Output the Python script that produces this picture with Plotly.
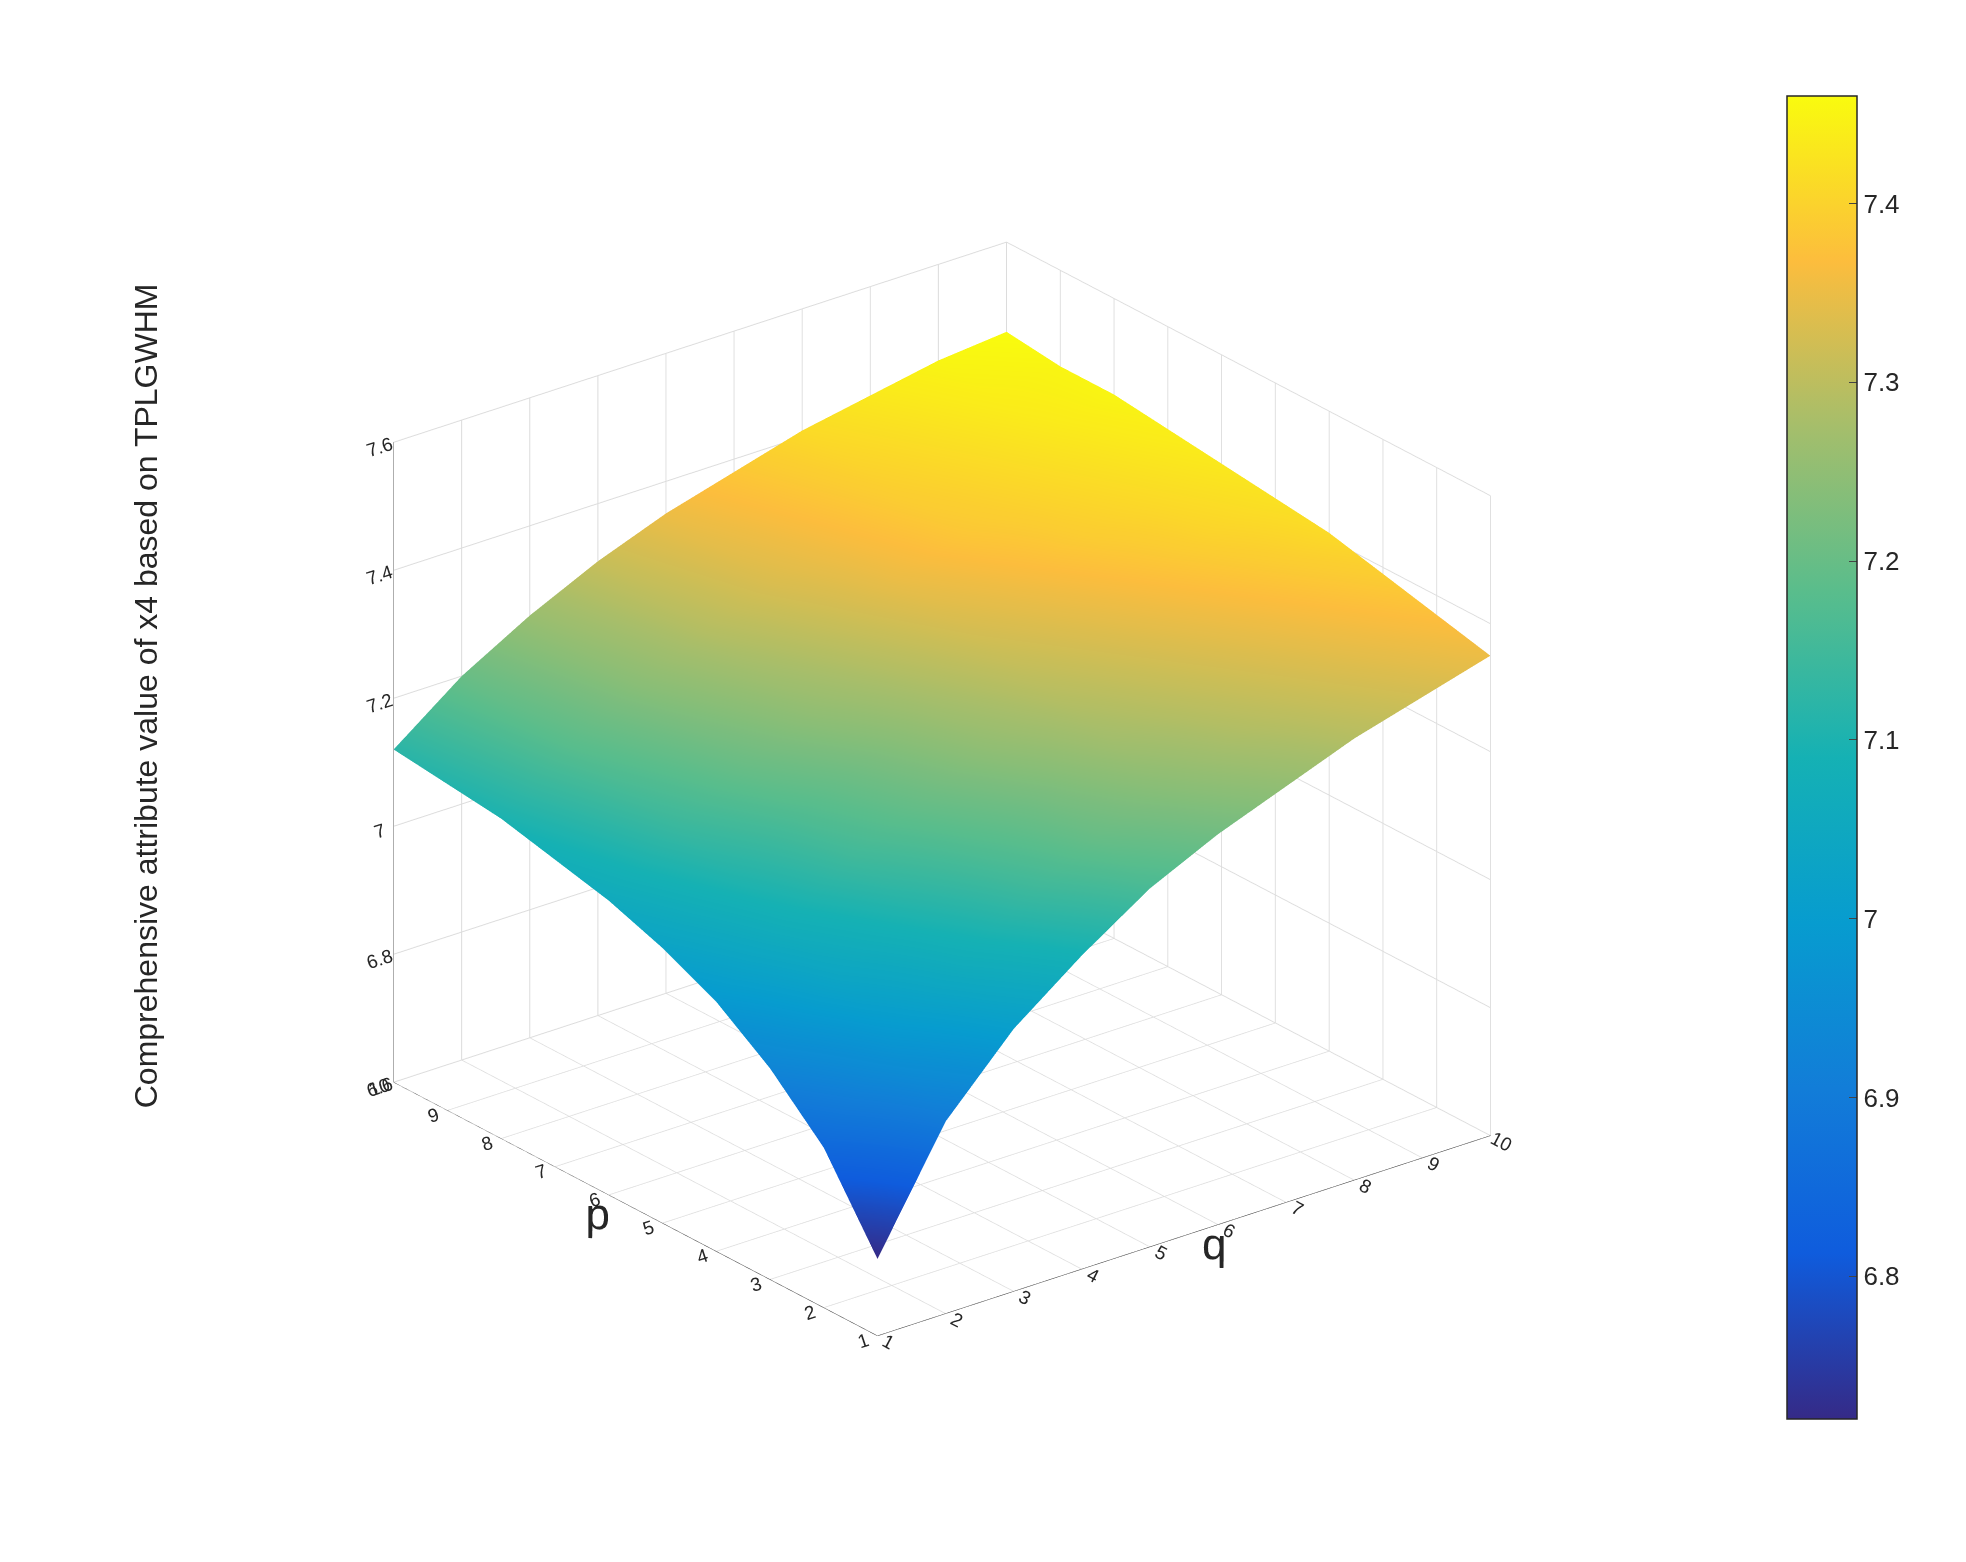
import plotly.graph_objects as go

p = [1, 2, 3, 4, 5, 6, 7, 8, 9, 10]
q = [1, 2, 3, 4, 5, 6, 7, 8, 9, 10]

# rows: p = 1..10, columns: q = 1..10
z = [
    [6.72, 6.90, 7.01, 7.09, 7.16, 7.21, 7.25, 7.29, 7.32, 7.35],
    [6.85, 6.98, 7.07, 7.14, 7.20, 7.24, 7.28, 7.31, 7.34, 7.37],
    [6.93, 7.04, 7.11, 7.17, 7.22, 7.27, 7.30, 7.33, 7.36, 7.39],
    [6.99, 7.08, 7.15, 7.20, 7.25, 7.29, 7.32, 7.35, 7.38, 7.41],
    [7.03, 7.11, 7.17, 7.22, 7.27, 7.31, 7.34, 7.37, 7.40, 7.42],
    [7.06, 7.14, 7.20, 7.25, 7.29, 7.33, 7.36, 7.39, 7.41, 7.43],
    [7.08, 7.16, 7.22, 7.27, 7.31, 7.35, 7.38, 7.40, 7.42, 7.44],
    [7.10, 7.18, 7.24, 7.29, 7.33, 7.36, 7.39, 7.41, 7.43, 7.45],
    [7.11, 7.19, 7.25, 7.30, 7.34, 7.37, 7.40, 7.42, 7.44, 7.45],
    [7.12, 7.20, 7.26, 7.31, 7.35, 7.38, 7.41, 7.43, 7.45, 7.46],
]

parula = [
    [0.0, "rgb(53,42,135)"],
    [0.125, "rgb(15,92,221)"],
    [0.25, "rgb(18,125,216)"],
    [0.375, "rgb(7,156,207)"],
    [0.5, "rgb(21,177,180)"],
    [0.625, "rgb(89,189,140)"],
    [0.75, "rgb(165,190,107)"],
    [0.875, "rgb(252,189,61)"],
    [1.0, "rgb(249,251,14)"],
]

font = dict(family="Liberation Sans, Arial", size=26, color="#262626")
tick3d = dict(family="Liberation Sans, Arial", size=15, color="#262626")
title3d = dict(family="Liberation Sans, Arial", size=44, color="#262626")

fig = go.Figure(go.Surface(
    x=q, y=p, z=z,
    colorscale=parula,
    showscale=True,
    colorbar=dict(
        x=0.9, xanchor="left", y=0.52, len=0.86, thickness=70,
        tickvals=[6.8, 6.9, 7.0, 7.1, 7.2, 7.3, 7.4],
        ticktext=["6.8", "6.9", "7", "7.1", "7.2", "7.3", "7.4"],
        ticks="inside", ticklen=8, outlinecolor="#262626", outlinewidth=1.5,
        tickfont=font,
    ),
    lighting=dict(ambient=1, diffuse=0, specular=0),
))

ax = dict(showbackground=False, gridcolor="#dcdcdc", showline=True,
          linecolor="#262626", tickfont=tick3d, zeroline=False)

fig.update_layout(
    paper_bgcolor="white",
    width=1966, height=1562,
    margin=dict(l=0, r=0, t=0, b=0),
    font=font,
    scene=dict(
        domain=dict(x=[0.07, 0.88], y=[0.0, 1.0]),
        xaxis=dict(ax, title=dict(text="q", font=title3d), range=[1, 10], dtick=1),
        yaxis=dict(ax, title=dict(text="p", font=title3d), range=[1, 10], dtick=1),
        zaxis=dict(ax, title=dict(text=""),
                   range=[6.6, 7.6], tickvals=[6.6, 6.8, 7.0, 7.2, 7.4, 7.6],
                   ticktext=["6.6", "6.8", "7", "7.2", "7.4", "7.6"]),
        aspectmode="manual", aspectratio=dict(x=1, y=1, z=0.9),
        camera=dict(eye=dict(x=-1.5, y=-1.9, z=1.1), projection=dict(type="orthographic")),
    ),
    annotations=[dict(
        text="Comprehensive attribute value of x4 based on TPLGWHM",
        xref="paper", yref="paper", x=0.06, y=0.56, textangle=-90,
        showarrow=False, font=dict(family="Liberation Sans, Arial", size=32, color="#262626"),
    )],
)

fig.write_html("out.html")
